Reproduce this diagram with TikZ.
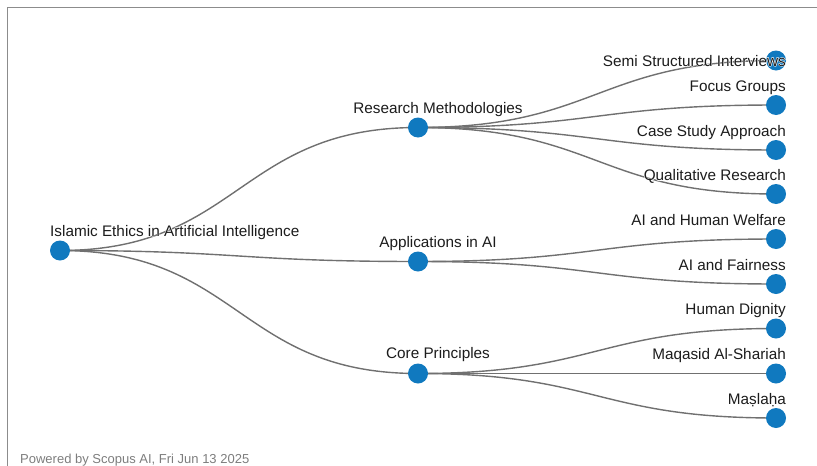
\documentclass[tikz,border=0pt]{standalone}
\usepackage{fontspec}
\setmainfont{Liberation Sans}
\newfontfamily\halofont[FakeBold=6]{Liberation Sans}
\usetikzlibrary{calc}
\definecolor{nodeblue}{RGB}{16,121,191}
\definecolor{linkgray}{RGB}{112,112,112}
\definecolor{txt}{RGB}{28,28,28}
\definecolor{framegray}{RGB}{140,140,140}
\definecolor{footgray}{RGB}{125,125,125}
\newcommand\halo[1]{\rlap{\halofont\color{white}#1}#1}
\tikzset{
  dot/.style={circle, fill=nodeblue, minimum size=20pt, inner sep=0pt},
  link/.style={draw=linkgray, line width=1.4pt},
  lbl/.style={font=\fontsize{15.3}{17}\selectfont, text=txt, inner sep=0pt},
}
\newcommand\lk[2]{\draw[link] (#1.center) .. controls +(179,0) and +(-179,0) .. (#2.center);}
\begin{document}
\begin{tikzpicture}[x=1pt,y=-1pt]
\useasboundingbox (0,0) rectangle (817,466);
\coordinate (fa) at (7.5,466);
\coordinate (fb) at (7.5,7.5);
\coordinate (fc) at (817,7.5);
\draw[framegray, line width=1.6pt] (fa) -- (fb) -- (fc);

% nodes
\coordinate (r) at (60,250.5);
\coordinate (m1) at (418,127.5);
\coordinate (m2) at (418,261.5);
\coordinate (m3) at (418,373.5);
\coordinate (l1) at (776,60.5);
\coordinate (l2) at (776,105);
\coordinate (l3) at (776,150);
\coordinate (l4) at (776,194);
\coordinate (l5) at (776,239);
\coordinate (l6) at (776,284);
\coordinate (l7) at (776,328.5);
\coordinate (l8) at (776,373.5);
\coordinate (l9) at (776,418);

% links
\lk{r}{m1}\lk{r}{m2}\lk{r}{m3}
\lk{m1}{l1}\lk{m1}{l2}\lk{m1}{l3}\lk{m1}{l4}
\lk{m2}{l5}\lk{m2}{l6}
\lk{m3}{l7}\lk{m3}{l8}\lk{m3}{l9}

% circles
\foreach \n in {r,m1,m2,m3,l1,l2,l3,l4,l5,l6,l7,l8,l9}
  \node[dot] (c\n) at (\n) {};

% labels
\node[lbl, anchor=base west] (tr) at ($(r)+(-10,-14.5)$) {\halo{Islamic Ethics in Artificial Intelligence}};
\node[lbl, anchor=base] (tm1) at ($(m1)+(20,-14.5)$) {\halo{Research Methodologies}};
\node[lbl, anchor=base] (tm2) at ($(m2)+(20,-14)$) {\halo{Applications in AI}};
\node[lbl, anchor=base] (tm3) at ($(m3)+(20,-15)$) {\halo{Core Principles}};
\node[lbl, anchor=base east] (tl1) at ($(l1)+(10,5.5)$) {\halo{Semi Structured Interviews}};
\node[lbl, anchor=base east] (tl2) at ($(l2)+(10,-14)$) {\halo{Focus Groups}};
\node[lbl, anchor=base east] (tl3) at ($(l3)+(10,-13.5)$) {\halo{Case Study Approach}};
\node[lbl, anchor=base east] (tl4) at ($(l4)+(10,-13.5)$) {\halo{Qualitative Research}};
\node[lbl, anchor=base east] (tl5) at ($(l5)+(10,-14)$) {\halo{AI and Human Welfare}};
\node[lbl, anchor=base east] (tl6) at ($(l6)+(10,-14)$) {\halo{AI and Fairness}};
\node[lbl, anchor=base east] (tl7) at ($(l7)+(10,-14)$) {\halo{Human Dignity}};
\node[lbl, anchor=base east] (tl8) at ($(l8)+(10,-14)$) {\halo{Maqasid Al-Shariah}};
\node[lbl, anchor=base east] (tl9) at ($(l9)+(10,-14)$) {\halo{Maṣlaḥa}};

% footer
\node[anchor=base west, inner sep=0pt, font=\fontsize{13}{15}\selectfont, text=footgray] (foot) at (20,463) {Powered by Scopus AI, Fri Jun 13 2025};
\end{tikzpicture}
\end{document}
